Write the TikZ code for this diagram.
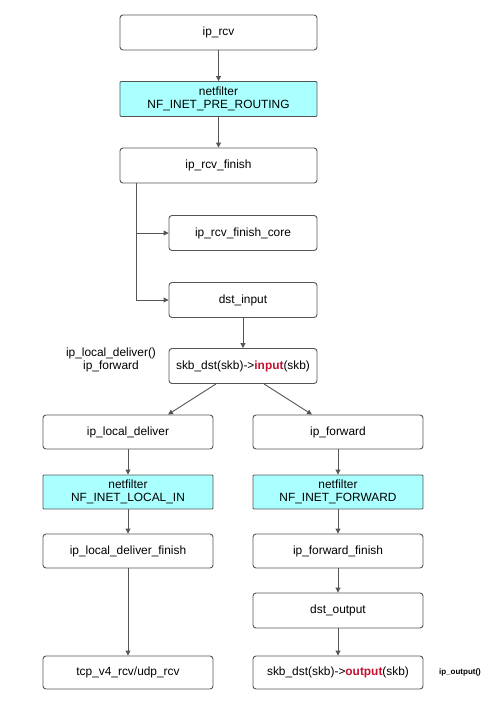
\documentclass[tikz,border=0pt]{standalone}
\usepackage{fontspec}
\setmainfont{Liberation Sans}
\usepackage{tikz}
\usetikzlibrary{arrows.meta,calc}
\definecolor{edgegray}{RGB}{85,85,85}
\definecolor{nfcyan}{RGB}{170,255,255}
\definecolor{callred}{RGB}{196,18,48}

\begin{document}
\begin{tikzpicture}[x=1pt,y=-1pt,
    box/.style={draw=edgegray,line width=0.9pt,rounded corners=3pt,fill=white,
        minimum height=35pt,inner sep=0pt,align=center,
        font=\fontsize{11.9}{13.5}\selectfont},
    nfbox/.style={box,fill=nfcyan,rounded corners=1pt},
    flow/.style={draw=edgegray,line width=0.9pt,-{Triangle[length=5pt,width=5pt]}}]

    \useasboundingbox (0,0) rectangle (493,709);

    % main path
    \node[box,minimum width=197pt] (rcv) at (218.5,32.5) {ip\_rcv};
    \node[nfbox,minimum width=197pt] (pre) at (218.5,99) {netfilter\\NF\_INET\_PRE\_ROUTING};
    \node[box,minimum width=197pt] (fin) at (218.5,165.5) {ip\_rcv\_finish};
    \node[box,minimum width=148pt] (core) at (243,233) {ip\_rcv\_finish\_core};
    \node[box,minimum width=148pt] (dstin) at (243,300) {dst\_input};
    \node[box,minimum width=148pt] (skbin) at (243,366) {skb\_dst(skb)-\textgreater\textcolor{callred}{\textbf{input}}(skb)};
    \node[align=center,font=\fontsize{11.9}{13.5}\selectfont] (inlabel) at (111,360) {ip\_local\_deliver()\\ip\_forward};

    % local deliver
    \node[box,minimum width=170pt,minimum height=34pt] (ldel) at (128,432) {ip\_local\_deliver};
    \node[nfbox,minimum width=170pt,minimum height=34pt] (nfin) at (128,492) {netfilter\\NF\_INET\_LOCAL\_IN};
    \node[box,minimum width=170pt,minimum height=34pt] (ldelfin) at (128,551) {ip\_local\_deliver\_finish};
    \node[box,minimum width=170pt,minimum height=33pt] (tcp) at (128,672.5) {tcp\_v4\_rcv/udp\_rcv};

    % forward
    \node[box,minimum width=170pt,minimum height=34pt] (fwd) at (338,432) {ip\_forward};
    \node[nfbox,minimum width=170pt,minimum height=34pt] (nffwd) at (338,492) {netfilter\\NF\_INET\_FORWARD};
    \node[box,minimum width=170pt,minimum height=34pt] (fwdfin) at (338,551) {ip\_forward\_finish};
    \node[box,minimum width=170pt] (dstout) at (338,610.5) {dst\_output};
    \node[box,minimum width=170pt,minimum height=33pt] (skbout) at (338,672.5) {skb\_dst(skb)-\textgreater\textcolor{callred}{\textbf{output}}(skb)};
    \node[font=\fontsize{8}{9}\selectfont\bfseries] (outlabel) at (460,672) {ip\_output()};

    % connectors
    \draw[flow] (rcv) -- (pre);
    \draw[flow] (pre) -- (fin);
    \draw[flow] ($(fin.south west)+(17,0)$) |- (core.west);
    \draw[flow] ($(fin.south west)+(17,0)$) |- (dstin.west);
    \draw[flow] (dstin) -- (skbin);
    \draw[flow] ($(skbin.south)+(-27,0)$) -- ($(ldel.north)+(40,0)$);
    \draw[flow] ($(skbin.south)+(21,0)$) -- ($(fwd.north)+(-26,0)$);
    \draw[flow] (ldel) -- (nfin);
    \draw[flow] (nfin) -- (ldelfin);
    \draw[flow] (ldelfin) -- (tcp);
    \draw[flow] (fwd) -- (nffwd);
    \draw[flow] (nffwd) -- (fwdfin);
    \draw[flow] (fwdfin) -- (dstout);
    \draw[flow] (dstout) -- (skbout);

\end{tikzpicture}
\end{document}
